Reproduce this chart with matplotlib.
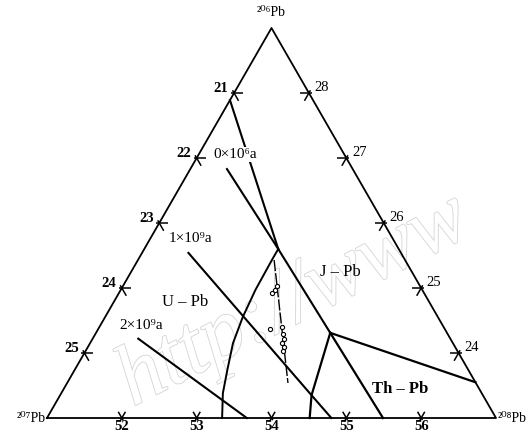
import numpy as np
import matplotlib.pyplot as plt
import matplotlib.patheffects as pe

# zoomed ternary window: each corner spans 6 percent
PB206_MIN, PB207_MIN, PB208_MIN, SPAN = 23, 20, 51, 6

# lines as (206Pb %, 208Pb %) pairs
iso_21_206 = [27.89, 25.60]
iso_21_208 = [51.00, 52.79]
iso_0_206 = [26.83, 25.60, 24.31]
iso_0_208 = [51.49, 52.79, 54.13]
iso_1_206 = [25.54, 23.35, 23.00]
iso_1_208 = [51.62, 54.36, 54.80]
iso_2_206 = [24.22, 23.00]
iso_2_208 = [51.61, 53.67]
curve_206 = [25.60, 25.43, 24.97, 24.55, 24.15, 23.74, 23.38, 23.00]
curve_208 = [52.79, 52.79, 52.80, 52.84, 52.91, 53.04, 53.16, 53.34]
thpb_right_206 = [24.31, 23.55]
thpb_right_208 = [54.13, 56.45]
thpb_low_206 = [24.31, 23.00]
thpb_low_208 = [54.13, 55.49]
thpb_left_206 = [24.31, 23.35, 23.00]
thpb_left_208 = [54.13, 54.36, 54.51]
trend_206 = [25.43, 23.54]
trend_208 = [52.82, 53.95]

# measured samples
sample_206 = [24.92, 24.97, 25.03, 24.37, 24.40, 24.29, 24.22, 24.15, 24.09, 24.03]
sample_208 = [53.05, 53.06, 53.06, 53.30, 53.44, 53.51, 53.56, 53.56, 53.62, 53.64]

# edge ticks
left_ticks = [21, 22, 23, 24, 25]     # 207Pb along left edge
right_ticks = [28, 27, 26, 25, 24]    # 206Pb along right edge
bottom_ticks = [52, 53, 54, 55, 56]   # 208Pb along bottom edge


def tern(p206, p208):
    wt = (np.asarray(p206, float) - PB206_MIN) / SPAN
    wr = (np.asarray(p208, float) - PB208_MIN) / SPAN
    return wr + 0.5 * wt, wt * np.sqrt(3) / 2


def tick(ax, p206, p208, dirs, size=0.02):
    x0, y0 = tern(p206, p208)
    for dx, dy in dirs:
        ax.plot([x0 - 0.35 * size * dx, x0 + size * dx],
                [y0 - 0.35 * size * dy, y0 + size * dy],
                color='black', lw=1.1, solid_capstyle='butt')


h = np.sqrt(3) / 2
fig = plt.figure(figsize=(5.32, 4.32), dpi=100)
ax = fig.add_axes([0, 0, 1, 1])
ax.set_xlim(-47 / 449, 485 / 449)
ax.set_ylim(-14 * h / 390, 418 * h / 390)
ax.set_axis_off()

serif = ['Liberation Serif', 'DejaVu Serif']

# faint watermark
ax.text(0.13, 0.03, 'http://www', fontsize=62, style='italic', family=serif,
        color='white', rotation=27, zorder=0,
        path_effects=[pe.Stroke(linewidth=1.2, foreground='#d4d4d4'), pe.Normal()])

# frame
ax.plot([0, 1, 0.5, 0], [0, 0, h, 0], color='black', lw=1.3, zorder=2)

lines = [
    (iso_21_206, iso_21_208, 1.5), (iso_0_206, iso_0_208, 1.5),
    (iso_1_206, iso_1_208, 1.5), (iso_2_206, iso_2_208, 1.5),
    (curve_206, curve_208, 1.4), (thpb_right_206, thpb_right_208, 1.6),
    (thpb_low_206, thpb_low_208, 1.6), (thpb_left_206, thpb_left_208, 1.6),
]
for a, b, lw in lines:
    x, y = tern(a, b)
    ax.plot(x, y, color='black', lw=lw, zorder=3)

x, y = tern(trend_206, trend_208)
ax.plot(x, y, color='black', lw=1.0, ls=(0, (8, 1.5)), zorder=3)
x, y = tern(sample_206, sample_208)
ax.scatter(x, y, s=9, facecolors='white', edgecolors='black', linewidths=0.8, zorder=4)

# ticks and their labels
right_in = (1.0, 0.0)
left_in = (-1.0, 0.0)
up_right = (0.5, h)
up_left = (-0.5, h)
down_right = (0.5, -h)
down_left = (-0.5, -h)
for v in left_ticks:
    p206 = 100 - PB208_MIN - v
    tick(ax, p206, PB208_MIN, [right_in, down_right])
    ax.annotate(str(v), tern(p206, PB208_MIN), xytext=(-4, 3), textcoords='offset points',
                ha='right', va='center', fontsize=10.5, fontweight='bold', family=serif)
for v in right_ticks:
    p208 = 100 - PB207_MIN - v
    tick(ax, v, p208, [left_in, down_left])
    ax.annotate(str(v), tern(v, p208), xytext=(4, 4), textcoords='offset points',
                ha='left', va='center', fontsize=10.5, family=serif)
for v in bottom_ticks:
    tick(ax, PB206_MIN, v, [up_right, up_left], size=0.016)
    ax.annotate(str(v), tern(PB206_MIN, v), xytext=(0, -1.5), textcoords='offset points',
                ha='center', va='top', fontsize=10.5, fontweight='bold', family=serif)

# corner labels
ax.text(0.5, h + 0.035, '²⁰⁶Pb', ha='center', va='center', fontsize=10, family=serif)
ax.text(-0.003, 0.0, '²⁰⁷Pb', ha='right', va='center', fontsize=10, family=serif)
ax.text(1.003, 0.0, '²⁰⁸Pb', ha='left', va='center', fontsize=10, family=serif)

# isochron labels and fields
box = dict(facecolor='white', edgecolor='none', pad=0.5)
ax.text(*tern(26.95, 51.25), '0×10⁶a', ha='left', va='bottom', fontsize=11,
        family=serif, bbox=box, zorder=5)
ax.text(*tern(25.66, 51.30), '1×10⁹a', ha='left', va='bottom', fontsize=11,
        family=serif, zorder=5)
ax.text(*tern(24.33, 51.30), '2×10⁹a', ha='left', va='bottom', fontsize=11,
        family=serif, zorder=5)
ax.text(*tern(24.78, 51.95), 'U – Pb', ha='center', va='center', fontsize=12,
        family=serif, zorder=5)
ax.text(*tern(25.25, 53.80), 'J – Pb', ha='center', va='center', fontsize=12,
        family=serif, zorder=5)
ax.text(*tern(23.45, 55.50), 'Th – Pb', ha='center', va='center', fontsize=12,
        family=serif, fontweight='bold', zorder=5)

fig.savefig('out.png', dpi=100)
